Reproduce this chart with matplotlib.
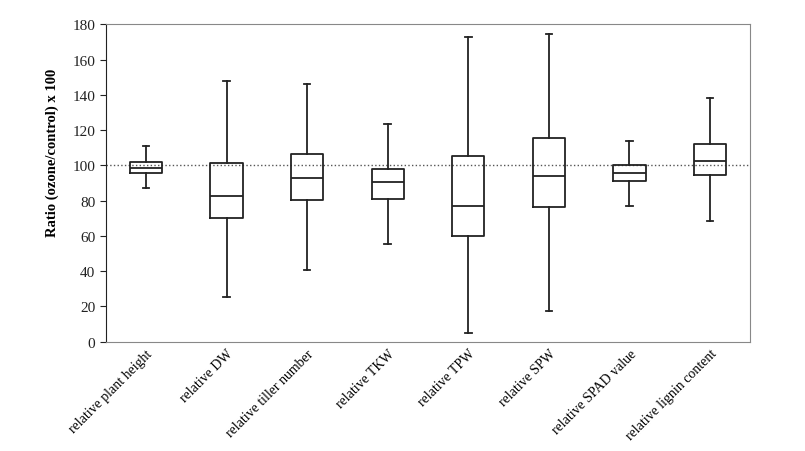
import matplotlib.pyplot as plt

## Dados
labels = ['relative plant height', 'relative DW', 'relative tiller number',
          'relative TKW', 'relative TPW', 'relative SPW',
          'relative SPAD value', 'relative lignin content']
whislo = [87.0, 25.5, 40.8, 55.4, 5.1, 17.6, 77.1, 68.3]
q1 = [95.9, 70.2, 80.4, 81.1, 59.9, 76.4, 91.0, 94.5]
med = [98.5, 82.6, 92.8, 90.7, 77.1, 94.1, 95.9, 102.3]
q3 = [101.7, 101.2, 106.6, 98.1, 105.5, 115.5, 100.4, 112.1]
whishi = [110.8, 148.0, 146.1, 123.6, 173.0, 174.3, 114.0, 138.4]

stats = []
for i in range(len(labels)):
    stats.append({'label': labels[i], 'whislo': whislo[i], 'q1': q1[i],
                  'med': med[i], 'q3': q3[i], 'whishi': whishi[i], 'fliers': []})

plt.rcParams['font.family'] = 'Liberation Serif'

fig = plt.figure(figsize=(8.05, 4.52), dpi=100)
ax = fig.add_axes([105.7 / 805, 1 - 342.7 / 452, 644.6 / 805, 317.4 / 452])

ax.axhline(100, color='#555555', linestyle=':', linewidth=1.0, zorder=1)

ax.bxp(stats, widths=0.4, showfliers=False, patch_artist=False,
       boxprops=dict(color='#222222', linewidth=1.3),
       medianprops=dict(color='#222222', linewidth=1.3),
       whiskerprops=dict(color='#222222', linewidth=1.3),
       capprops=dict(color='#222222', linewidth=1.3),
       capwidths=0.08)

ax.set_xlim(0.5, len(labels) + 0.5)
ax.set_ylim(0, 180)
ax.set_yticks(range(0, 181, 20))
ax.tick_params(axis='y', direction='out', length=4, labelsize=11, colors='#222222')
ax.tick_params(axis='x', length=0, labelsize=10)
ax.set_xticklabels(labels, rotation=45, ha='right', rotation_mode='anchor')
ax.set_ylabel('Ratio (ozone/control) x 100', fontsize=10.5, fontweight='bold')
ax.yaxis.set_label_coords((59 - 105.7) / 644.6, (342.7 - 153) / 317.4)

for s in ['top', 'right', 'bottom']:
    ax.spines[s].set_color('#888888')
ax.spines['left'].set_color('#222222')

fig.savefig('out.png', dpi=100)
